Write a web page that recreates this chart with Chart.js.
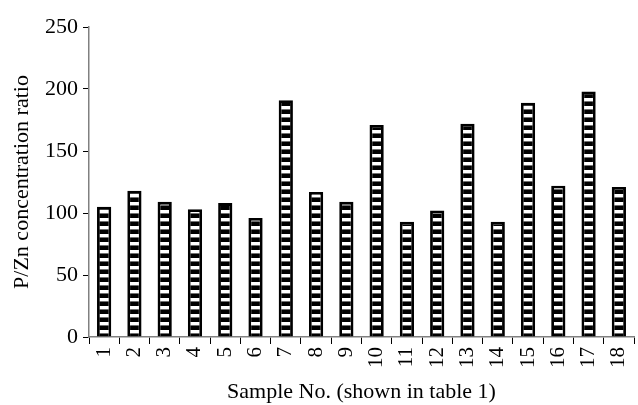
<!DOCTYPE html>
<html>
<head>
<meta charset="utf-8">
<script src="https://cdn.jsdelivr.net/npm/chart.js@4/dist/chart.umd.min.js"></script>
<style>
  html, body { margin: 0; padding: 0; background: #fff; }
  #wrap { width: 638px; height: 405px; position: relative; }
</style>
</head>
<body>
<div id="wrap"><canvas id="c" width="638" height="405"></canvas></div>
<script>
const categories = ["1","2","3","4","5","6","7","8","9","10","11","12","13","14","15","16","17","18"];
const ratioValues = [105, 118, 109, 103, 108, 96, 191, 117, 109, 171, 93, 102, 172, 93, 189, 122, 198, 121];
const yTicks = [0, 50, 100, 150, 200, 250];

function stripePattern() {
  const pc = document.createElement('canvas');
  pc.width = 4; pc.height = 8;
  const g = pc.getContext('2d');
  g.fillStyle = '#000'; g.fillRect(0, 0, 4, 8);
  g.fillStyle = '#fff'; g.fillRect(0, 2, 4, 3);
  g.fillStyle = '#bbb'; g.fillRect(0, 5, 4, 0.6);
  return document.getElementById('c').getContext('2d').createPattern(pc, 'repeat');
}

const font = "'Liberation Serif', 'Times New Roman', serif";

new Chart(document.getElementById('c'), {
  type: 'bar',
  data: {
    labels: categories,
    datasets: [{
      data: ratioValues,
      backgroundColor: stripePattern(),
      borderColor: '#000',
      borderWidth: 2.8,
      categoryPercentage: 1.0,
      barPercentage: 0.47
    }]
  },
  options: {
    responsive: false,
    animation: false,
    layout: { padding: { top: 27, right: 0, left: 9, bottom: 0 } },
    plugins: { legend: { display: false }, tooltip: { enabled: false } },
    scales: {
      x: {
        offset: true,
        grid: { display: true, drawOnChartArea: false, drawTicks: true, tickLength: 7, color: '#000', offset: true },
        border: { display: true, color: '#808080', width: 1.5 },
        ticks: { color: '#000', font: { family: font, size: 21 }, minRotation: 90, maxRotation: 90, padding: 3, autoSkip: false },
        title: { display: true, text: 'Sample No. (shown in table 1)', color: '#000', font: { family: font, size: 22 }, padding: { top: 2, bottom: 0 } },
        afterFit: (s) => { s.height = 68; s.paddingRight = 4; }
      },
      y: {
        min: 0, max: 250,
        afterBuildTicks: (s) => { s.ticks = yTicks.map(v => ({ value: v })); },
        grid: { display: true, drawOnChartArea: false, drawTicks: true, tickLength: 6, color: '#000' },
        border: { display: true, color: '#808080', width: 1.5 },
        ticks: { color: '#000', font: { family: font, size: 22 }, padding: 5 },
        title: { display: true, text: 'P/Zn concentration ratio', color: '#000', font: { family: font, size: 22 }, padding: { top: 0, bottom: 2 } },
        afterFit: (s) => { s.width = 80; }
      }
    }
  }
});
</script>
</body>
</html>
